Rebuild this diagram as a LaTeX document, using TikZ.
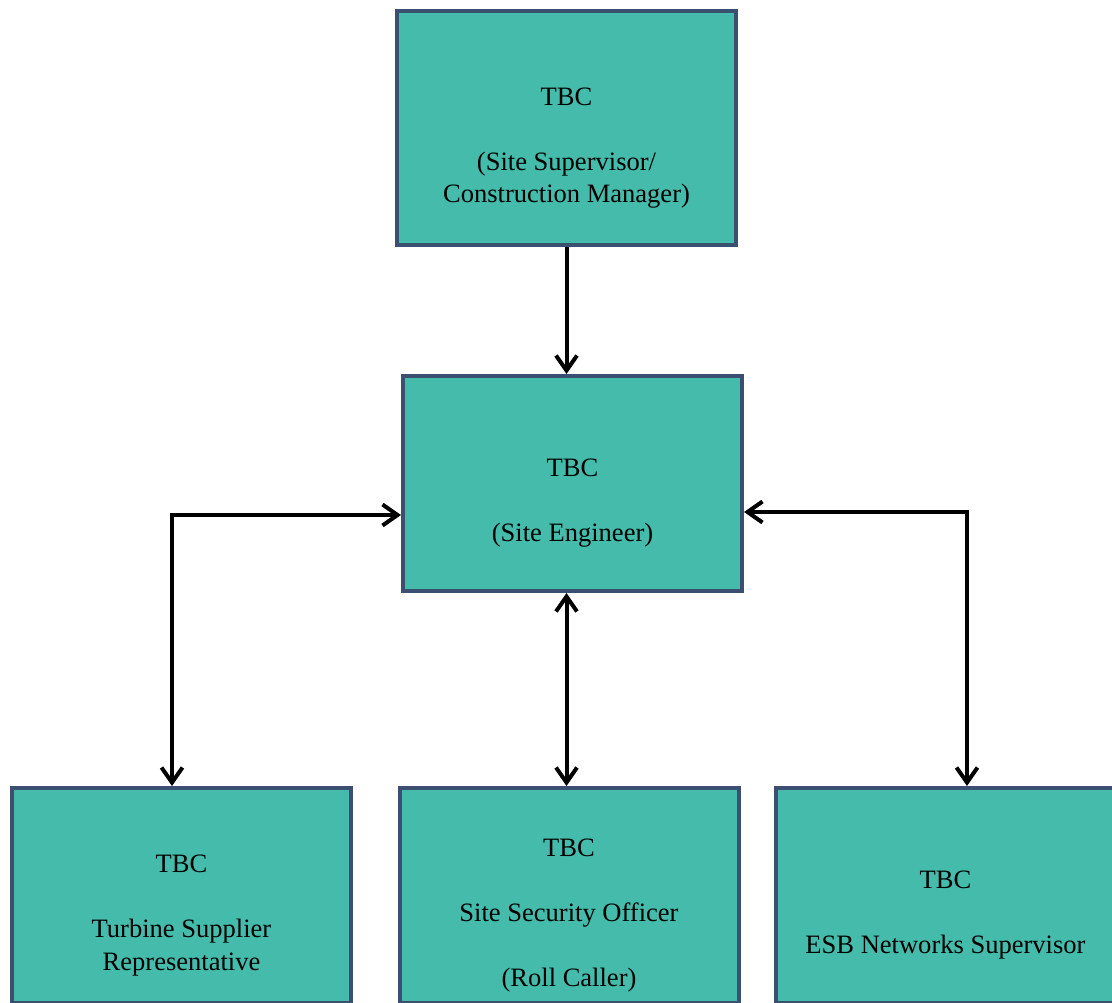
\documentclass[tikz,border=0pt]{standalone}
\usepackage{fontspec}
\setmainfont{Liberation Serif}
\usepackage{xcolor}
\usepackage{tikz}
\definecolor{boxteal}{RGB}{69,187,171}
\definecolor{boxedge}{RGB}{59,80,112}
\usetikzlibrary{positioning,arrows.meta}
\newcommand{\toppad}{\rule{0pt}{1.15cm}}

\begin{document}
\begin{tikzpicture}[
    box/.style={rectangle, draw=boxedge, line width=0.08cm, fill=boxteal, minimum width=6.78cm, minimum height=4.3cm, align=center, font=\fontsize{15.1pt}{18.5pt}\selectfont},
    arrow/.style={->, >={Straight Barb[length=0.3cm,width=0.42cm]}, line width=0.08cm}
]
\useasboundingbox (0,0) rectangle (22.24,-20.06);

\node[box, minimum height=4.68cm] (sup) at (11.33,-2.56) {\toppad TBC\\[18.5pt](Site Supervisor/\\Construction Manager)};
\node[box, below=2.54cm of sup, xshift=0.12cm] (eng) {\toppad TBC\\[18.5pt](Site Engineer)};
\node[box, below=3.86cm of eng, xshift=-7.82cm] (tsr) {\toppad TBC\\[18.5pt]Turbine Supplier\\Representative};
\node[box, below=3.86cm of eng, xshift=-0.07cm] (sso) {\toppad TBC\\[18.5pt]Site Security Officer\\[18.5pt](Roll Caller)};
\node[box, below=3.86cm of eng, xshift=7.46cm] (esb) {\toppad TBC\\[18.5pt]ESB Networks Supervisor};

\draw[arrow] (sup.south) -- (sup.south |- eng.north);
\draw[arrow, <->] (sup.south |- eng.south) -- (sup.south |- sso.north);
\draw[arrow, <->] ([yshift=-0.63cm]eng.west) -| ([xshift=-0.19cm]tsr.north);
\draw[arrow, <->] ([yshift=-0.57cm]eng.east) -| ([xshift=0.43cm]esb.north);

\end{tikzpicture}
\end{document}
